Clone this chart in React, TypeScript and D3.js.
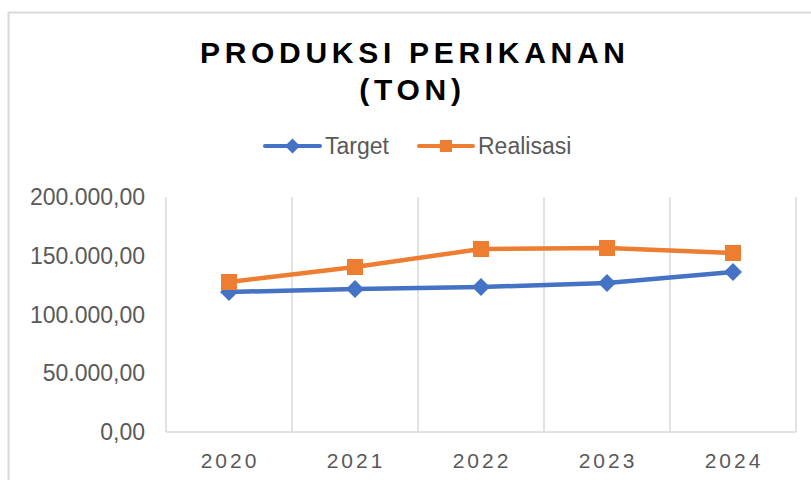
import React from "react";
import * as d3 from "d3";

const years = ["2020", "2021", "2022", "2023", "2024"];
const targetValues = [119150, 121700, 123400, 126800, 136170];
const realisasiValues = [127660, 140430, 155750, 156600, 152340];
const yTicks = [0, 50000, 100000, 150000, 200000];
const titleLines = ["PRODUKSI PERIKANAN", "(TON)"];
const seriesNames = ["Target", "Realisasi"];

const W = 811;
const H = 480;
const plotLeft = 166;
const plotRight = 796;
const plotTop = 197;
const plotBottom = 432;

const BLUE = "#4472C4";
const ORANGE = "#ED7D31";
const GRID = "#D9D9D9";
const TEXT = "#595959";
const FONT = "'Liberation Sans', Arial, sans-serif";

const fmt = (v: number) => {
  const s = d3.format(",.2f")(v);
  return s.replace(/,/g, "#").replace(/\./g, ",").replace(/#/g, ".");
};

export default function App() {
  const x = d3.scaleBand().domain(years).range([plotLeft, plotRight]);
  const y = d3.scaleLinear().domain([0, 200000]).range([plotBottom, plotTop]);
  const cx = (yr: string) => (x(yr) as number) + x.bandwidth() / 2;
  const line = d3
    .line<number>()
    .x((_, i) => cx(years[i]))
    .y((d) => y(d));

  const diamond = (px: number, py: number, r: number) =>
    `M${px},${py - r}L${px + r},${py}L${px},${py + r}L${px - r},${py}Z`;

  const gridXs = years.map((yr) => x(yr) as number).concat([plotRight]);

  return (
    <svg
      width={W}
      height={H}
      style={{ position: "fixed", left: 0, top: 0, background: "#fff" }}
      fontFamily={FONT}
    >
      <rect x={0} y={0} width={W} height={H} fill="#fff" />
      {/* outer chart border */}
      <path d={`M8.5,${H}V12.5H${W}`} fill="none" stroke={GRID} strokeWidth={2} />

      {/* title */}
      <text
        x={412.5}
        y={63}
        textAnchor="middle"
        fontSize={30}
        fontWeight="bold"
        fill="#000"
        textLength={425}
        lengthAdjust="spacing"
      >
        {titleLines[0]}
      </text>
      <text
        x={412.5}
        y={100}
        textAnchor="middle"
        fontSize={30}
        fontWeight="bold"
        fill="#000"
        letterSpacing={4.7}
      >
        {titleLines[1]}
      </text>

      {/* legend */}
      <g>
        <line x1={265} x2={320} y1={146} y2={146} stroke={BLUE} strokeWidth={4} strokeLinecap="round" />
        <path d={diamond(292.5, 146, 7.5)} fill={BLUE} />
        <text x={325} y={154} fontSize={23} fill={TEXT}>
          {seriesNames[0]}
        </text>
        <line x1={419} x2={473} y1={146} y2={146} stroke={ORANGE} strokeWidth={4} strokeLinecap="round" />
        <rect x={440} y={140} width={12} height={12} fill={ORANGE} />
        <text x={478} y={154} fontSize={23} fill={TEXT}>
          {seriesNames[1]}
        </text>
      </g>

      {/* vertical gridlines */}
      {gridXs.map((gx, i) => (
        <line key={i} x1={gx} x2={gx} y1={plotTop} y2={plotBottom} stroke={GRID} strokeWidth={1.5} />
      ))}
      {/* bottom axis line */}
      <line x1={plotLeft} x2={plotRight} y1={plotBottom} y2={plotBottom} stroke={GRID} strokeWidth={1.5} />

      {/* y tick labels */}
      {yTicks.map((t) => (
        <text key={t} x={145} y={y(t) + 8} textAnchor="end" fontSize={23} fill={TEXT}>
          {fmt(t)}
        </text>
      ))}

      {/* x tick labels */}
      {years.map((yr) => (
        <text key={yr} x={cx(yr) + 1} y={468} textAnchor="middle" fontSize={21} fill={TEXT} letterSpacing={3}>
          {yr}
        </text>
      ))}

      {/* Target series */}
      <path d={line(targetValues) || ""} fill="none" stroke={BLUE} strokeWidth={4.5} strokeLinejoin="round" />
      {targetValues.map((v, i) => (
        <path key={i} d={diamond(cx(years[i]), y(v), 9)} fill={BLUE} />
      ))}

      {/* Realisasi series */}
      <path d={line(realisasiValues) || ""} fill="none" stroke={ORANGE} strokeWidth={4.5} strokeLinejoin="round" />
      {realisasiValues.map((v, i) => (
        <rect key={i} x={cx(years[i]) - 8} y={y(v) - 8} width={16} height={16} fill={ORANGE} />
      ))}
    </svg>
  );
}
